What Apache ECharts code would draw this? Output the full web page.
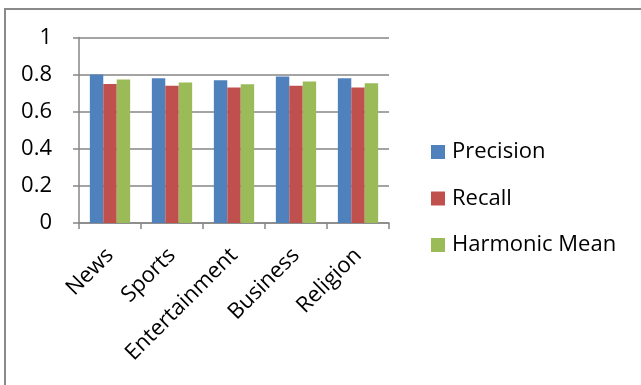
<!DOCTYPE html>
<html>
<head>
<meta charset="utf-8">
<script src="https://cdn.jsdelivr.net/npm/echarts@6/dist/echarts.min.js"></script>
<style>html,body{margin:0;padding:0;background:#fff;}#c{width:641px;height:385px;}</style>
</head>
<body>
<div id="c"></div>
<script>
const categories = ['News', 'Sports', 'Entertainment', 'Business', 'Religion'];
const precision = [0.80, 0.78, 0.77, 0.79, 0.78];
const recall = [0.75, 0.74, 0.73, 0.74, 0.73];
const harmonicMean = [0.774, 0.758, 0.748, 0.763, 0.754];
const yTicks = [0, 0.2, 0.4, 0.6, 0.8, 1];

const FONT = 'Open Sans';
const FS = 22;
const fmtY = v => { const t = yTicks.find(x => Math.abs(x - v) < 1e-9); return t === undefined ? '' : String(t); };
const chart = echarts.init(document.getElementById('c'), null, {renderer: 'canvas'});
chart.setOption({
  animation: false,
  backgroundColor: '#fff',
  textStyle: {fontFamily: FONT},
  graphic: [{
    type: 'rect', shape: {x: 5, y: 9, width: 700, height: 450},
    style: {fill: 'none', stroke: '#8a8a8a', lineWidth: 2}, silent: true
  }],
  grid: {left: 79, right: 252, top: 37.5, bottom: 162, containLabel: false},
  legend: {
    orient: 'vertical', left: 431, top: 141, padding: 0, itemGap: 24.5,
    itemWidth: 14, itemHeight: 14, icon: 'rect',
    textStyle: {fontFamily: FONT, fontSize: FS, color: '#000', padding: [0, 0, 0, 2]},
    data: ['Precision', 'Recall', 'Harmonic Mean']
  },
  xAxis: {
    type: 'category', data: categories,
    axisLine: {lineStyle: {color: '#868686', width: 1.5}},
    axisTick: {show: true, length: 6, interval: 0, lineStyle: {color: '#868686', width: 1.5}},
    axisLabel: {rotate: 45, interval: 0, margin: 29, fontFamily: FONT, fontSize: FS, color: '#000'}
  },
  yAxis: [{
    type: 'value', min: 0, max: 1, interval: 0.2, position: 'left',
    axisLine: {show: true, lineStyle: {color: '#868686', width: 1.5}},
    axisTick: {show: true, inside: false, length: 6, lineStyle: {color: '#868686', width: 1.5}},
    splitLine: {lineStyle: {color: '#868686', width: 1.5}},
    axisLabel: {show: false}
  }, {
    type: 'value', min: 0, max: 1, interval: 0.2, position: 'left', offset: 15,
    axisLine: {show: false}, axisTick: {show: false}, splitLine: {show: false},
    axisLabel: {margin: 12, fontFamily: FONT, fontSize: FS, color: '#000', formatter: fmtY}
  }],
  series: [
    {name: 'Precision', type: 'bar', data: precision, barGap: '0%', barCategoryGap: '35%', itemStyle: {color: '#4f81bd'}},
    {name: 'Recall', type: 'bar', data: recall, itemStyle: {color: '#c0504d'}},
    {name: 'Harmonic Mean', type: 'bar', data: harmonicMean, itemStyle: {color: '#9bbb59'}}
  ]
});
</script>
</body>
</html>
